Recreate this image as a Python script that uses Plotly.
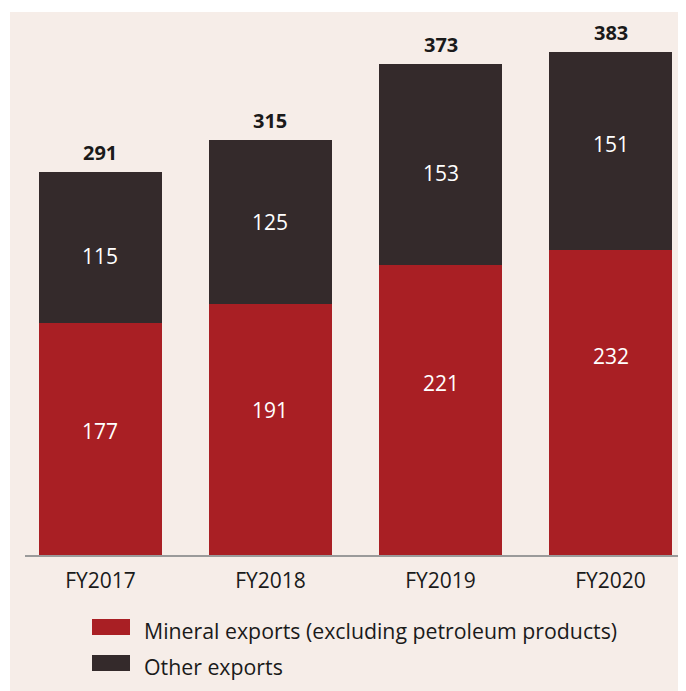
import plotly.graph_objects as go

categories = ["FY2017", "FY2018", "FY2019", "FY2020"]
mineral = [177, 191, 221, 232]
other = [115, 125, 153, 151]
totals = [291, 315, 373, 383]
legend_labels = ["Mineral exports (excluding petroleum products)", "Other exports"]

# label placement tweaks (pixels, positive = up) as in the original artwork
mineral_label_shift = [8, 20, 27, 47]
other_label_shift = [-9, 0, -9, 7]

RED = "#a91f24"
DARK = "#342a2b"
BG = "#f6ede8"
FONT = "Open Sans"

W, H = 678, 683
L, R, T, B = 17, 0, 4, 136
pw, ph = W - L - R, H - T - B

def px(x):
    return (x - L) / pw

def py(y):
    return (H - B - y) / ph

fig = go.Figure()
fig.add_trace(go.Bar(
    x=categories, y=mineral, name=legend_labels[0], marker_color=RED,
    marker_line_width=0, showlegend=False, hoverinfo="skip"))
fig.add_trace(go.Bar(
    x=categories, y=other, name=legend_labels[1], marker_color=DARK,
    marker_line_width=0, showlegend=False, hoverinfo="skip"))

inner_font = dict(size=21, color="white", family=FONT)
for c, m, o, t, sm, so in zip(categories, mineral, other, totals,
                              mineral_label_shift, other_label_shift):
    fig.add_annotation(x=c, y=m / 2, text=str(m), showarrow=False,
                       yanchor="middle", yshift=sm, font=inner_font)
    fig.add_annotation(x=c, y=m + o / 2, text=str(o), showarrow=False,
                       yanchor="middle", yshift=so, font=inner_font)
    fig.add_annotation(x=c, y=m + o, text=f"<b>{t}</b>", showarrow=False,
                       yanchor="bottom", yshift=4,
                       font=dict(size=20, color="#1a1a1a", family=FONT))

# background panel
fig.add_shape(type="rect", xref="paper", yref="paper",
              x0=px(2), x1=px(W + 5), y0=py(H + 5), y1=py(4),
              fillcolor=BG, line_width=0, layer="below")

# custom legend
leg = [(611, 627, RED), (647, 663, DARK)]
for (y0, y1, col), lab in zip(leg, legend_labels):
    fig.add_shape(type="rect", xref="paper", yref="paper",
                  x0=px(84), x1=px(122), y0=py(y1), y1=py(y0),
                  fillcolor=col, line_width=0)
    fig.add_annotation(xref="paper", yref="paper", x=px(134), y=py((y0 + y1) / 2 + 3),
                       text=lab, showarrow=False, xanchor="left", yanchor="middle",
                       font=dict(size=21.3, color="#1a1a1a", family=FONT))

fig.update_layout(
    width=W, height=H, barmode="stack", bargap=0.2765,
    margin=dict(l=L, r=R, t=T, b=B),
    paper_bgcolor="white", plot_bgcolor="rgba(0,0,0,0)",
    font=dict(family=FONT),
)
fig.update_xaxes(range=[-0.444, 3.444], showline=True, linecolor="#9a9a9a", linewidth=1.5,
                 ticks="outside", ticklen=6, tickcolor="rgba(0,0,0,0)",
                 tickfont=dict(size=21, color="#1a1a1a", family=FONT), fixedrange=True)
fig.update_yaxes(range=[0, 413.6], visible=False, showgrid=False, fixedrange=True)

fig.write_html("out.html")
